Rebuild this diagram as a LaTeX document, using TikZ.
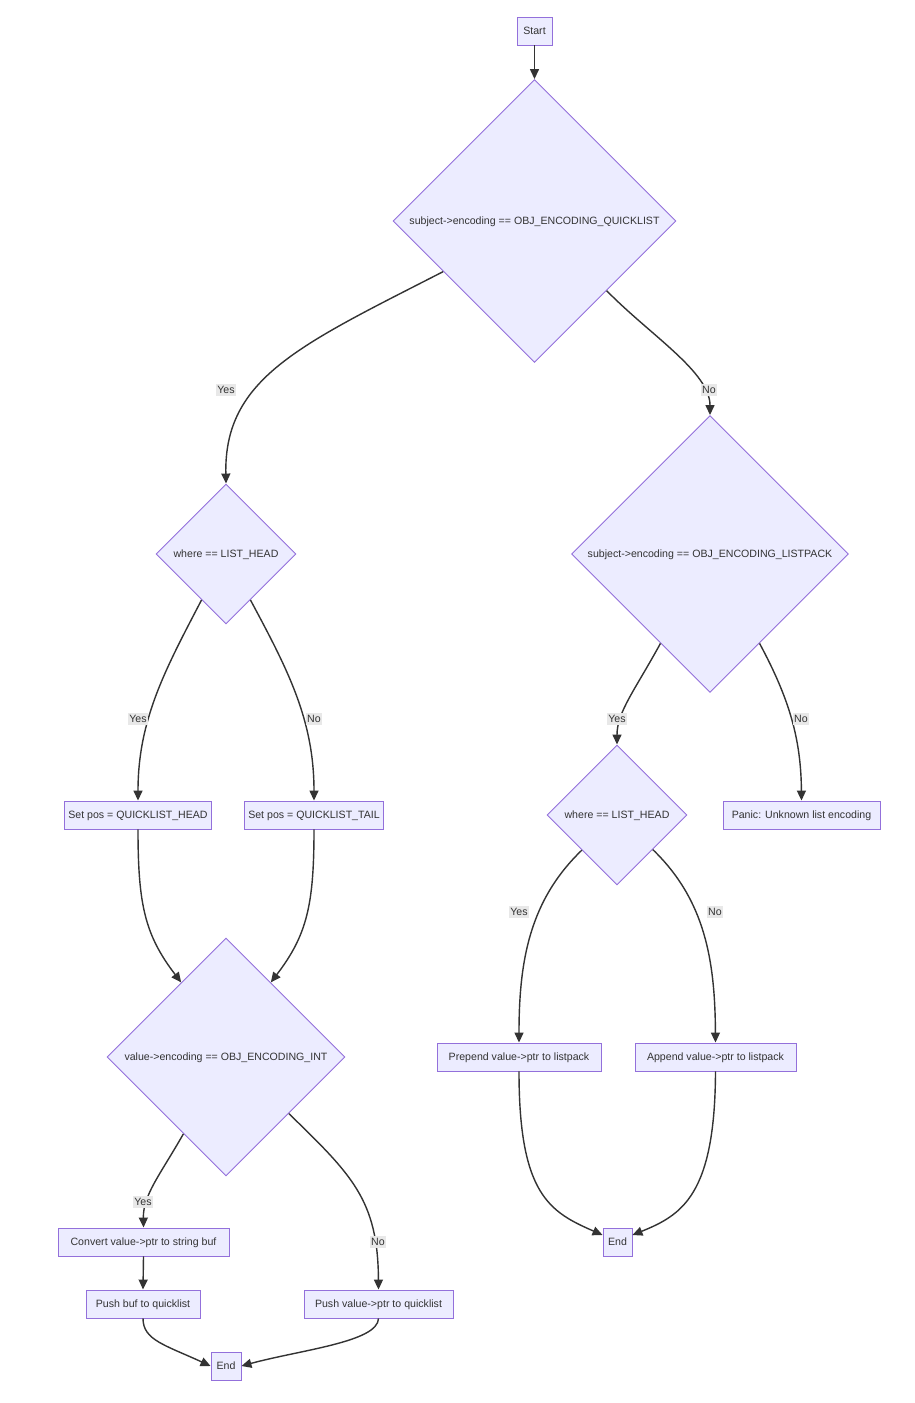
\documentclass[tikz,border=0pt]{standalone}
\usepackage{fontspec}
\setmainfont{Liberation Sans}
\usetikzlibrary{shapes.geometric,arrows.meta}
\definecolor{nodefill}{HTML}{ECECFF}
\definecolor{nodeline}{HTML}{9370DB}
\definecolor{edgecol}{HTML}{333333}
\definecolor{txtcol}{HTML}{333333}
\definecolor{lblfill}{HTML}{E8E8E8}
\tikzset{
  box/.style={draw=nodeline, fill=nodefill, line width=0.9pt, minimum height=28pt, inner xsep=4pt, inner ysep=0pt, text height=8.8pt, text depth=2pt, text=txtcol, font=\fontsize{10.6}{13}\selectfont},
  dia/.style={draw=nodeline, fill=nodefill, line width=0.9pt, shape=diamond, aspect=1, inner sep=0pt, text height=8.8pt, text depth=2pt, text=txtcol, font=\fontsize{10.6}{13}\selectfont},
  conn/.style={draw=edgecol, line width=1.4pt, -{Triangle[length=10pt,width=9pt]}},
  lbl/.style={fill=lblfill, inner sep=1pt, text height=8.5pt, text depth=2pt, text=txtcol, font=\fontsize{10.6}{13}\selectfont},
}
\begin{document}
\begin{tikzpicture}[x=1pt,y=-1pt]
\useasboundingbox (0,0) rectangle (914,1403);
\fill[white] (0,0) rectangle (914,1403);
% nodes
\node[box, minimum width=35pt] (start) at (534.5,31) {Start};
\node[dia, minimum width=283pt, minimum height=283pt] (d1) at (534.5,221) {subject->encoding == OBJ\_ENCODING\_QUICKLIST};
\node[dia, minimum width=140pt, minimum height=140pt] (d2) at (226,554) {where == LIST\_HEAD};
\node[dia, minimum width=277pt, minimum height=277pt] (d3) at (710,554) {subject->encoding == OBJ\_ENCODING\_LISTPACK};
\node[box, minimum width=144pt] (sethead) at (138,815) {Set pos = QUICKLIST\_HEAD};
\node[box, minimum width=138pt] (settail) at (314,815) {Set pos = QUICKLIST\_TAIL};
\node[dia, minimum width=140pt, minimum height=140pt] (d4) at (617,815) {where == LIST\_HEAD};
\node[box, minimum width=157pt] (panic) at (801.5,815) {Panic: Unknown list encoding};
\node[dia, minimum width=238pt, minimum height=238pt] (d5) at (226,1057) {value->encoding == OBJ\_ENCODING\_INT};
\node[box, minimum width=164pt] (prepend) at (519,1057) {Prepend value->ptr to listpack};
\node[box, minimum width=161pt] (append) at (715.5,1057) {Append value->ptr to listpack};
\node[box, minimum width=171pt] (convert) at (143.5,1242) {Convert value->ptr to string buf};
\node[box, minimum width=29pt] (endb) at (617.5,1242) {End};
\node[box, minimum width=114pt] (pushbuf) at (143,1304) {Push buf to quicklist};
\node[box, minimum width=149pt] (pushval) at (378.5,1304) {Push value->ptr to quicklist};
\node[box, minimum width=30pt] (enda) at (226,1366) {End};
% connectors
\draw[conn] (start.south) -- (d1.north);
\draw[conn] (d1.209) .. controls (300,345) and (224,378) .. (d2.north);
\draw[conn] (d1.316) .. controls (650,335) and (710,372) .. (d3.north);
\draw[conn] (d2.242) .. controls (165,670) and (138,720) .. (sethead.north);
\draw[conn] (d2.298) .. controls (288,670) and (314,720) .. (settail.north);
\draw[conn] (d3.241) .. controls (635,690) and (617,712) .. (d4.north);
\draw[conn] (d3.299) .. controls (790,700) and (801,740) .. (panic.north);
\draw[conn] (sethead.south) .. controls (138,905) and (145,935) .. (d5.121);
\draw[conn] (settail.south) .. controls (314,905) and (307,935) .. (d5.59);
\draw[conn] (d4.225) .. controls (530,900) and (519,960) .. (prepend.north);
\draw[conn] (d4.316) .. controls (705,900) and (715,960) .. (append.north);
\draw[conn] (d5.241) .. controls (160,1175) and (143,1195) .. (convert.north);
\draw[conn] (d5.318) .. controls (352,1175) and (378,1200) .. (pushval.north);
\draw[conn] (convert.south) -- (pushbuf.north);
\draw[conn] (pushbuf.south) .. controls (143,1340) and (165,1345) .. (enda.west);
\draw[conn] (pushval.south) .. controls (378,1342) and (300,1350) .. (enda.east);
\draw[conn] (prepend.south) .. controls (519,1195) and (550,1212) .. ([yshift=7pt]endb.west);
\draw[conn] (append.south) .. controls (715,1195) and (682,1215) .. ([yshift=7pt]endb.east);
% labels
\node[lbl] (l1) at (226,390) {Yes};
\node[lbl] (l2) at (709,390) {No};
\node[lbl] (l3) at (138,719) {Yes};
\node[lbl] (l4) at (314,719) {No};
\node[lbl] (l5) at (617,719) {Yes};
\node[lbl] (l6) at (801,719) {No};
\node[lbl] (l7) at (519,912) {Yes};
\node[lbl] (l8) at (715,912) {No};
\node[lbl] (l9) at (143,1202) {Yes};
\node[lbl] (l10) at (378,1242) {No};
\end{tikzpicture}
\end{document}
